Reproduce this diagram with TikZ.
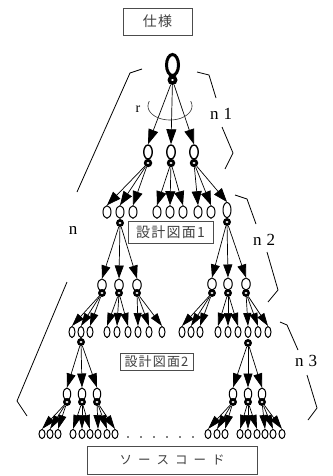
\documentclass[tikz,border=0pt]{standalone}
\usepackage{fontspec}
\setmainfont{Liberation Serif}
\newfontfamily\jpfont{Noto Sans CJK JP}
\newfontfamily\jpfontsp[LetterSpace=9]{Noto Sans CJK JP}
\usetikzlibrary{shapes.geometric,arrows.meta}

\begin{document}
\begin{tikzpicture}[x=1pt,y=-1pt,
  ov/.style={ellipse,draw,fill=white,inner sep=0pt,line width=1pt},
  ovA/.style={ov,minimum width=12pt,minimum height=21pt,line width=3pt},
  ovB/.style={ov,minimum width=8.5pt,minimum height=14pt,line width=1.4pt},
  ovC/.style={ov,minimum width=8pt,minimum height=12.5pt},
  ovD/.style={ov,minimum width=8.5pt,minimum height=12pt},
  ovE/.style={ov,minimum width=6pt,minimum height=11pt},
  ovF/.style={ov,minimum width=7.5pt,minimum height=12pt},
  ovG/.style={ov,minimum width=6pt,minimum height=9pt},
  bd/.style={circle,fill=black,inner sep=0pt,minimum size=#1,
    path picture={\fill[white] (path picture bounding box.center)
      ellipse [x radius=1.6pt,y radius=1pt];}},
  bd/.default=8pt,
  tipA/.style={-{Triangle[length=15pt,width=10pt]},line width=0.7pt},
  tipB/.style={-{Triangle[length=14pt,width=10pt]},line width=0.7pt},
  tipC/.style={-{Triangle[length=13pt,width=9pt]},line width=0.7pt},
  tipD/.style={-{Triangle[length=13pt,width=8pt]},line width=0.7pt},
  tipE/.style={-{Triangle[length=14pt,width=9pt]},line width=0.7pt},
  tipF/.style={-{Triangle[length=14pt,width=8pt]},line width=0.7pt},
  lbl/.style={draw=black!70,fill=white,line width=0.7pt,inner sep=0pt,
    text=black!75,font=\jpfontsp\fontsize{14}{14}\selectfont},
  brk/.style={line width=0.8pt},
  nlab/.style={font=\fontsize{17}{17}\selectfont}
]
\fill[white] (0,0) rectangle (332,476);
\useasboundingbox (0,0) rectangle (332,476);

% ---- root ----
\node[ovA] (e0) at (172.5,65) {};
\node[bd=10pt] (d0) at (172.5,80) {};

% ---- level 1 ----
\foreach \n/\x in {a/148,b/171,c/194}
  \node[ovB] (e1\n) at (\x,152) {};
\foreach \n/\x in {a/148,b/171,c/194}
  \node[bd=8.5pt] (d1\n) at (\x,163) {};

% ---- level 2 ----
\foreach \n/\x in {a1/107,a2/120,a3/133,b1/157,b2/170,b3/183,c1/198,c2/211}
  \node[ovC] (e2\n) at (\x,212) {};
\node[ovC,minimum height=15pt] (e2c3) at (227,210) {};
\node[bd] (d2a2) at (120,223) {};
\node[bd] (d2c3) at (227,222) {};

% ---- level 3 ----
\foreach \n/\x in {L1/102,L2/119,L3/137}
  \node[ovD] (e3\n) at (\x,285) {};
\foreach \n/\x in {R1/212,R2/228,R3/246}
  \node[ovD] (e3\n) at (\x,284) {};
\foreach \n/\x in {L1/102,L2/119,L3/137,R1/212,R2/228,R3/246}
  \node[bd] (d3\n) at (\x,293) {};

% ---- level 4 ----
\foreach \n/\x in {L11/72,L12/81,L13/90,L21/107,L22/117,L23/128,L31/138,L32/149,L33/162,
                   R11/182,R12/191,R13/200,R21/218,R22/228,R23/238,R31/248,R32/258,R33/268}
  \node[ovE] (e4\n) at (\x,332) {};
\node[bd] (d4L12) at (81,342) {};
\node[bd] (d4R31) at (248,343) {};

% ---- level 5 ----
\foreach \n/\x in {L1/67,L2/82,L3/97,R1/233,R2/248,R3/262}
  \node[ovF] (e5\n) at (\x,394) {};
\foreach \n/\x in {L1/67,L2/82,L3/97,R1/233,R2/248,R3/262}
  \node[bd] (d5\n) at (\x,402) {};

% ---- level 6 (leaves) ----
\foreach \n/\x in {L11/42,L12/50,L13/58,L21/73,L22/82,L23/90,L31/98,L32/107,L33/115,
                   R11/208,R12/217,R13/225,R21/240,R22/248,R23/257,R31/265,R32/273,R33/282}
  \node[ovG] (e6\n) at (\x,434) {};

% ---- arrows ----
\foreach \c in {a,b,c}
  \draw[tipA] (d0) -- (e1\c.north);
\foreach \p in {a,b,c}
  \foreach \k in {1,2,3}
    \draw[tipB] (d1\p) -- (e2\p\k.north);
\foreach \k in {1,2,3} {
  \draw[tipC] (d2a2) -- (e3L\k.north);
  \draw[tipC] (d2c3) -- (e3R\k.north);
}
\foreach \s in {L,R}
  \foreach \p in {1,2,3}
    \foreach \k in {1,2,3}
      \draw[tipD] (d3\s\p) -- (e4\s\p\k.north);
\foreach \k in {1,2,3} {
  \draw[tipE] (d4L12) -- (e5L\k.north);
  \draw[tipE] (d4R31) -- (e5R\k.north);
}
\foreach \s in {L,R}
  \foreach \p in {1,2,3}
    \foreach \k in {1,2,3}
      \draw[tipF] (d5\s\p) -- (e6\s\p\k.north);

% ---- angle mark r ----
\draw[line width=0.6pt,black!80] plot[domain=-20:200,samples=40,smooth]
  ({170+22*cos(\x)},{106+14*sin(\x)});
\node[font=\fontsize{14}{14}\selectfont] (r) at (138,109) {r};

% ---- brackets ----
\draw[brk] (142,69) -- (130,73) -- (77,192);
\draw[brk] (67,282) -- (17,401) -- (27,416);
\draw[brk] (197,72) -- (209,75) -- (216,98);
\draw[brk] (222,127) -- (233,153) -- (225,169);
\draw[brk] (235,195) -- (247,199) -- (256,224);
\draw[brk] (267,252) -- (278,290) -- (268,302);
\draw[brk] (280,322) -- (287,325) -- (298,350);
\draw[brk] (307,375) -- (317,408) -- (308,420);

\node[nlab] (n0) at (73,230) {n};
\node[nlab] (n1) at (221,114) {n\hspace{5pt}1};
\node[nlab] (n2) at (264,240) {n\hspace{5pt}2};
\node[nlab] (n3) at (306,361) {n\hspace{5pt}3};

% ---- ellipsis between leaf groups ----
\foreach \x in {128,141,154,167,180,193}
  \fill (\x,437) circle (0.9pt);

% ---- labelled boxes ----
\node[lbl,minimum width=69pt,minimum height=27pt] (spec) at (157.5,21.5) {仕様};
\node[lbl,minimum width=85pt,minimum height=22pt] (dwg1) at (170.5,232) {設計図面1};
\node[lbl,minimum width=73pt,minimum height=17pt,font=\jpfontsp\fontsize{13}{13}\selectfont]
  (dwg2) at (156.5,361.5) {設計図面2};
\node[lbl,minimum width=170pt,minimum height=28pt,font=\jpfont\fontsize{12.5}{12.5}\selectfont]
  (src) at (172,460) {ソ\hspace{6pt}ー\hspace{6pt}ス\hspace{6pt}コ\hspace{6pt}ー\hspace{6pt}ド};
\end{tikzpicture}
\end{document}
